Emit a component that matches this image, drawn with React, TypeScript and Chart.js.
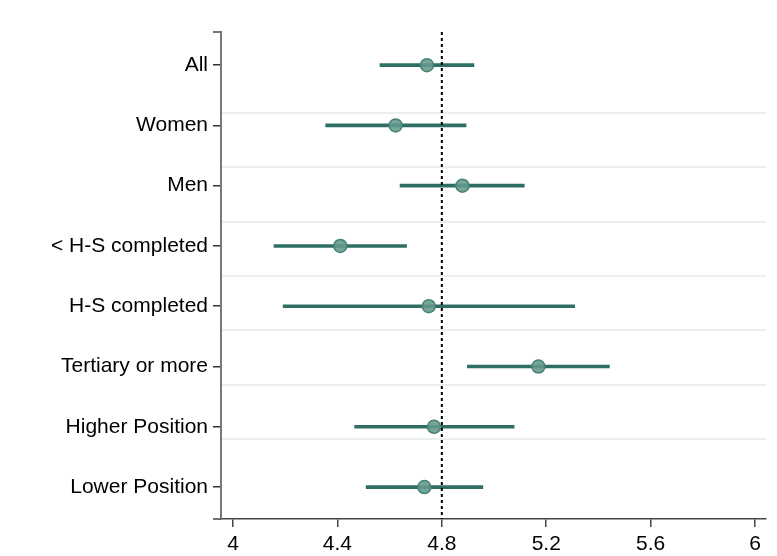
import React, { useEffect, useRef } from "react";
import { Chart, registerables } from "chart.js";

Chart.register(...registerables);

const categories = [
  "All",
  "Women",
  "Men",
  "< H-S completed",
  "H-S completed",
  "Tertiary or more",
  "Higher Position",
  "Lower Position",
];
const estimates = [4.743, 4.623, 4.879, 4.411, 4.75, 5.17, 4.77, 4.733];
const lower = [4.563, 4.355, 4.64, 4.157, 4.192, 4.898, 4.466, 4.51];
const upper = [4.923, 4.893, 5.116, 4.665, 5.309, 5.442, 5.077, 4.957];
const xTicks = [4, 4.4, 4.8, 5.2, 5.6, 6];
const referenceValue = 4.8;

const FONT = "'Liberation Sans', Arial, sans-serif";

const stubPlugin = {
  id: "stubs",
  afterDraw(chart: any) {
    const { ctx, chartArea } = chart;
    ctx.save();
    ctx.strokeStyle = "#777777";
    ctx.lineWidth = 2;
    ctx.beginPath();
    ctx.moveTo(chartArea.left - 8, chartArea.top);
    ctx.lineTo(chartArea.left, chartArea.top);
    ctx.stroke();
    ctx.strokeStyle = "#444444";
    ctx.lineWidth = 1.5;
    ctx.beginPath();
    ctx.moveTo(chartArea.left - 8, chartArea.bottom);
    ctx.lineTo(chartArea.left, chartArea.bottom);
    ctx.stroke();
    ctx.restore();
  },
};

export default function App() {
  const ref = useRef<HTMLCanvasElement | null>(null);

  useEffect(() => {
    if (!ref.current) return;
    const yMin = -0.55;
    const yMax = 7.53;
    const chart = new Chart(ref.current, {
      type: "bar",
      data: {
        datasets: [
          {
            type: "bar",
            indexAxis: "y",
            data: categories.map((_, i) => ({ y: i, x: [lower[i], upper[i]] })) as any,
            backgroundColor: "#2f6e65",
            barThickness: 3,
            xAxisID: "x",
            yAxisID: "y",
            order: 3,
          } as any,
          {
            type: "line",
            data: categories.map((_, i) => ({ x: estimates[i], y: i })),
            showLine: false,
            pointRadius: 6.5,
            pointBackgroundColor: "rgba(100,152,141,0.88)",
            pointBorderColor: "rgba(72,130,118,1)",
            pointBorderWidth: 1.5,
            xAxisID: "x",
            yAxisID: "y",
            order: 1,
          } as any,
          {
            type: "line",
            data: [
              { x: referenceValue, y: yMin },
              { x: referenceValue, y: yMax },
            ],
            borderColor: "#000000",
            borderWidth: 2,
            borderDash: [3, 3],
            pointRadius: 0,
            xAxisID: "x",
            yAxisID: "y",
            order: 2,
          } as any,
        ],
      },
      options: {
        animation: false,
        responsive: false,
        maintainAspectRatio: false,
        layout: { padding: { top: 32, right: 11, left: 0, bottom: 0 } },
        plugins: { legend: { display: false }, tooltip: { enabled: false } },
        scales: {
          x: {
            type: "linear",
            position: "bottom",
            offset: false,
            min: 3.954,
            max: 6.042,
            afterBuildTicks: (s: any) => {
              s.ticks = xTicks.map((v) => ({ value: v }));
            },
            afterFit: (s: any) => {
              s.height = 37;
            },
            ticks: {
              color: "#000000",
              font: { family: FONT, size: 21 },
              padding: 5,
              callback: (v: any) => String(v),
              maxRotation: 0,
            },
            grid: {
              offset: false,
              drawOnChartArea: false,
              drawTicks: true,
              tickLength: 8,
              color: "#444444",
              lineWidth: 1.5,
            },
            border: { display: true, color: "#444444", width: 1.5 },
          },
          y: {
            type: "linear",
            position: "left",
            offset: false,
            reverse: true,
            min: yMin,
            max: yMax,
            afterBuildTicks: (s: any) => {
              s.ticks = categories.map((_, i) => ({ value: i }));
            },
            afterFit: (s: any) => {
              s.width = 221;
            },
            ticks: {
              color: "#000000",
              font: { family: FONT, size: 21 },
              padding: 5,
              callback: (v: any) => categories[v as number] ?? "",
            },
            grid: {
              offset: false,
              drawOnChartArea: false,
              drawTicks: true,
              tickLength: 8,
              color: "#333333",
              lineWidth: 1.5,
            },
            border: { display: true, color: "#777777", width: 2 },
          },
          yg: {
            type: "linear",
            position: "left",
            offset: false,
            reverse: true,
            min: -0.494,
            max: 8.472,
            afterBuildTicks: (s: any) => {
              s.ticks = [1, 2, 3, 4, 5, 6, 7].map((v) => ({ value: v }));
            },
            afterFit: (s: any) => {
              s.width = 0;
            },
            ticks: { display: false },
            grid: {
              offset: false,
              drawOnChartArea: true,
              drawTicks: false,
              color: "#eaf0f1",
              lineWidth: 2,
            },
            border: { display: false },
          },
        },
      } as any,
      plugins: [stubPlugin],
    });
    return () => chart.destroy();
  }, []);

  return (
    <div style={{ position: "absolute", left: 0, top: 0, width: 777, height: 556, background: "#ffffff" }}>
      <canvas ref={ref} width={777} height={556} style={{ width: 777, height: 556, display: "block" }} />
    </div>
  );
}
